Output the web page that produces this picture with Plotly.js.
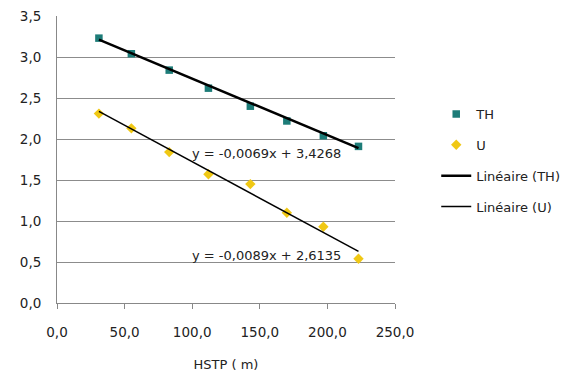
<!DOCTYPE html>
<html>
<head>
<meta charset="utf-8">
<script src="https://cdn.plot.ly/plotly-3.0.1.min.js"></script>
<style>html,body{margin:0;padding:0;background:#fff;}#chart{width:561px;height:373px;}</style>
</head>
<body>
<div id="chart"></div>
<script>
// Data
const hstp = [31, 55, 83, 112, 143, 170, 197, 223];
const thValues = [3.23, 3.04, 2.84, 2.62, 2.40, 2.22, 2.04, 1.91];
const uValues = [2.31, 2.13, 1.84, 1.57, 1.45, 1.10, 0.93, 0.54];
// Trendline coefficients as displayed on the chart
const thSlope = -0.0069, thIntercept = 3.4268;
const uSlope = -0.0089, uIntercept = 2.6135;
const thEquation = "y = -0,0069x + 3,4268";
const uEquation = "y = -0,0089x + 2,6135";
const seriesNames = ["TH", "U", "Linéaire (TH)", "Linéaire (U)"];
const xTitle = "HSTP ( m)";

const xEnds = [hstp[0], hstp[hstp.length - 1]];
const fam = "DejaVu Sans, Verdana, sans-serif";
const font = {family: fam, size: 13.5, color: "#222"};

const traces = [
  {x: hstp, y: thValues, name: seriesNames[0], mode: "markers", type: "scatter",
   legendgroup: "a", marker: {symbol: "square", size: 7.5, color: "#1d7c78"}},
  {x: hstp, y: uValues, name: seriesNames[1], mode: "markers", type: "scatter",
   legendgroup: "b", marker: {symbol: "diamond", size: 8, color: "#f0c814"}},
  {x: xEnds, y: xEnds.map(v => thSlope * v + thIntercept), name: seriesNames[2],
   mode: "lines", type: "scatter", legendgroup: "c", line: {color: "#000", width: 2.5}},
  {x: xEnds, y: xEnds.map(v => uSlope * v + uIntercept), name: seriesNames[3],
   mode: "lines", type: "scatter", legendgroup: "d", line: {color: "#000", width: 1.5}}
];

const layout = {
  width: 561, height: 373,
  margin: {l: 57, r: 166, t: 16, b: 70, autoexpand: false},
  paper_bgcolor: "#fff", plot_bgcolor: "#fff",
  separators: ", ",
  font: font,
  showlegend: true,
  legend: {x: 1.122, y: 0.711, xanchor: "left", yanchor: "top", tracegroupgap: 11,
           font: {family: fam, size: 13, color: "#222"}, bgcolor: "rgba(0,0,0,0)"},
  xaxis: {range: [0, 250], dtick: 50, tickformat: ".1f", showgrid: false, automargin: false,
          showline: true, linecolor: "#888", linewidth: 1, ticks: "outside", ticklen: 5,
          tickcolor: "#888", zeroline: false, tickfont: font, ticklabelstandoff: 12,
          title: {text: xTitle, font: {family: fam, size: 13, color: "#222"}, standoff: 20}},
  yaxis: {range: [0, 3.5], dtick: 0.5, tickformat: ".1f", showgrid: true, automargin: false,
          gridcolor: "#8c8c8c", gridwidth: 1, showline: true, linecolor: "#888",
          ticks: "", zeroline: false, tickfont: font, ticklabelstandoff: 12},
  annotations: [
    {x: 98.5, y: 1.82, xref: "x", yref: "y", text: thEquation, showarrow: false,
     xanchor: "left", font: {family: fam, size: 13, color: "#222"}},
    {x: 98.5, y: 0.58, xref: "x", yref: "y", text: uEquation, showarrow: false,
     xanchor: "left", font: {family: fam, size: 13, color: "#222"}}
  ]
};

Plotly.newPlot("chart", traces, layout, {staticPlot: true, displayModeBar: false});
</script>
</body>
</html>
